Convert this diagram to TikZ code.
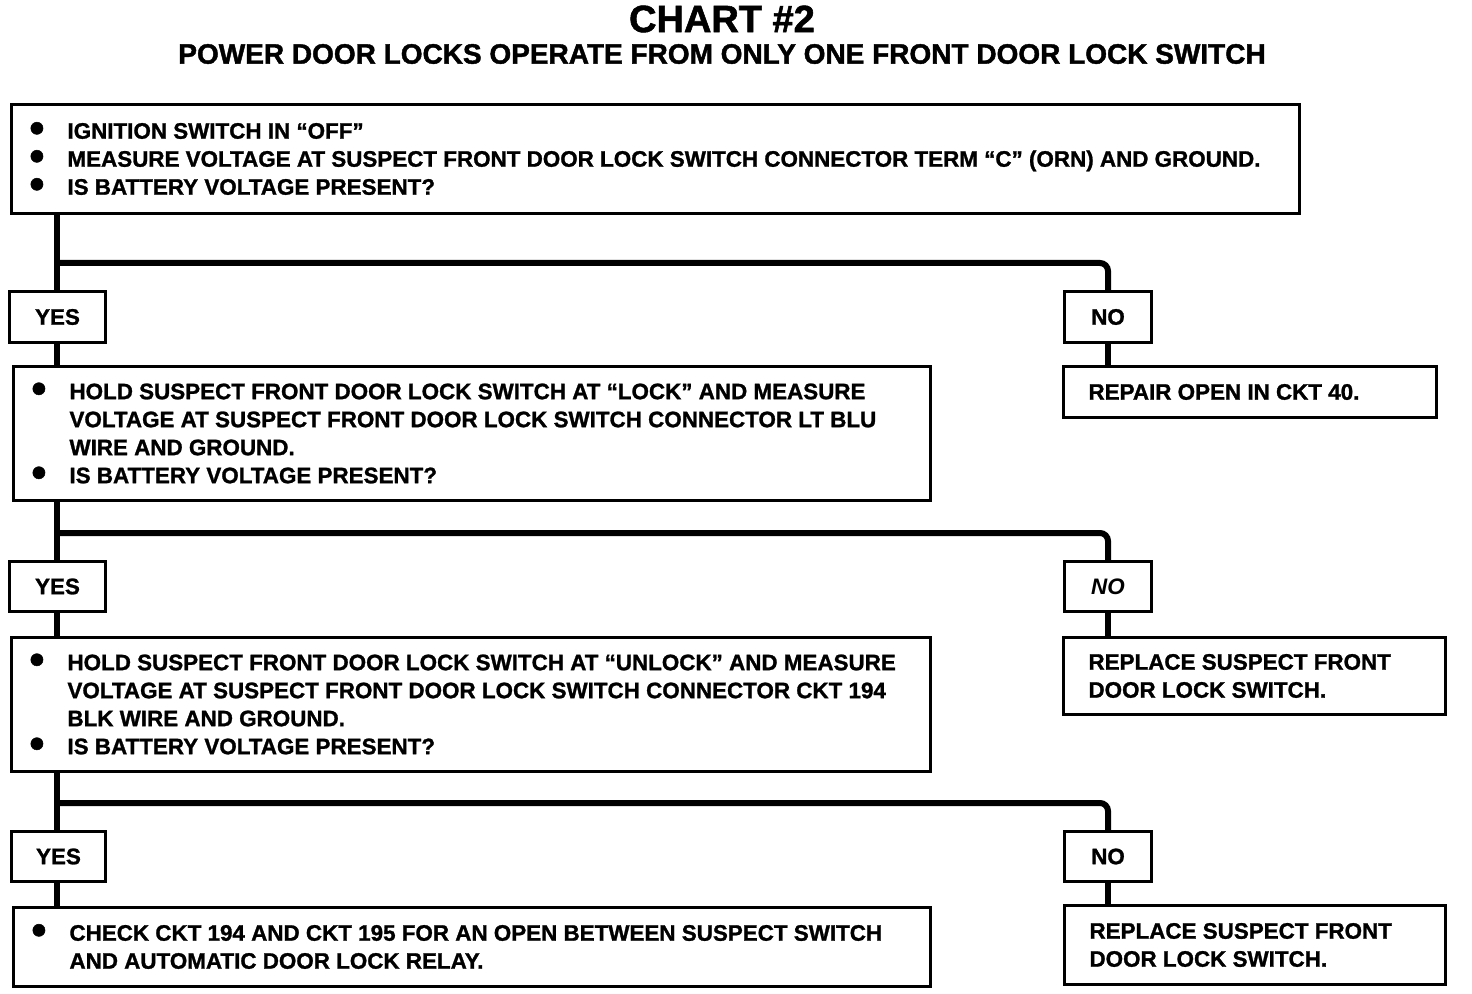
\documentclass[tikz,border=0pt]{standalone}
\usepackage{fontspec}
\setmainfont{Liberation Sans}[BoldFeatures={FakeBold=1.2}]
\newfontfamily\titlefont{Liberation Sans Bold}[FakeBold=1.5]
\newcommand\bul{\makebox[19pt][l]{\smash{\raisebox{-1.8pt}{\scalebox{1.9}{\textbullet}}}}}
\newcommand\bitem[1]{\hangindent=19pt\hangafter=1\noindent\bul #1\par}
\tikzset{
  box/.style={draw, line width=1.5pt, anchor=north west, inner xsep=9pt, inner ysep=0pt,
    font=\bfseries\fontsize{11.2}{14}\selectfont},
  sz/.style 2 args={minimum width=#1*0.5pt, minimum height=#2*0.5pt},
  ans/.style={draw, line width=1.5pt, anchor=north west, inner sep=0pt,
    font=\bfseries\fontsize{11.2}{14}\selectfont},
  conn/.style={line width=3pt},
}
\begin{document}
\begin{tikzpicture}[x=0.5pt,y=-0.5pt]
\useasboundingbox (0,0) rectangle (1472,994);
\node[font=\titlefont\fontsize{19}{22}\selectfont] (t1) at (722,19) {CHART \#2};
\node[font=\titlefont\fontsize{14}{16}\selectfont] (t2) at (722,54) {POWER DOOR LOCKS OPERATE FROM ONLY ONE FRONT DOOR LOCK SWITCH};

\node[box, sz={1288}{109}] (b1) at (10,103) {\parbox{626pt}{\raggedright
\bitem{IGNITION SWITCH IN “OFF”}
\bitem{MEASURE VOLTAGE AT SUSPECT FRONT DOOR LOCK SWITCH CONNECTOR TERM “C” (ORN) AND GROUND.}
\bitem{IS BATTERY VOLTAGE PRESENT?}}};

\node[ans, sz={96}{51}] (y1) at (8,290) {YES};
\node[ans, sz={87}{51}] (n1) at (1063,290) {NO};

\node[box, sz={917}{134}] (b2) at (12,365) {\parbox{440.5pt}{\raggedright
\bitem{HOLD SUSPECT FRONT DOOR LOCK SWITCH AT “LOCK” AND MEASURE\newline VOLTAGE AT SUSPECT FRONT DOOR LOCK SWITCH CONNECTOR LT BLU\newline WIRE AND GROUND.}
\bitem{IS BATTERY VOLTAGE PRESENT?}}};
\node[box, inner xsep=12.5pt, sz={373}{51}] (r1) at (1062,365) {\parbox{161.5pt}{\raggedright REPAIR OPEN IN CKT 40.}};

\node[ans, sz={96}{50}] (y2) at (8,560) {YES};
\node[ans, sz={87}{50}] (n2) at (1063,560) {\itshape NO};

\node[box, sz={919}{134}] (b3) at (10,636) {\parbox{441.5pt}{\raggedright
\bitem{HOLD SUSPECT FRONT DOOR LOCK SWITCH AT “UNLOCK” AND MEASURE\newline VOLTAGE AT SUSPECT FRONT DOOR LOCK SWITCH CONNECTOR CKT 194\newline BLK WIRE AND GROUND.}
\bitem{IS BATTERY VOLTAGE PRESENT?}}};
\node[box, inner xsep=12.5pt, sz={382}{77}] (r2) at (1062,636) {\parbox{166pt}{\raggedright REPLACE SUSPECT FRONT\newline DOOR LOCK SWITCH.}};

\node[ans, sz={94}{50}] (y3) at (10,830) {YES};
\node[ans, sz={87}{50}] (n3) at (1063,830) {NO};

\node[box, sz={917}{79}] (b4) at (12,906) {\parbox{440.5pt}{\raggedright
\bitem{CHECK CKT 194 AND CKT 195 FOR AN OPEN BETWEEN SUSPECT SWITCH\newline AND AUTOMATIC DOOR LOCK RELAY.}}};
\node[box, inner xsep=12.5pt, sz={381}{79}] (r3) at (1063,904) {\parbox{165.5pt}{\raggedright REPLACE SUSPECT FRONT\newline DOOR LOCK SWITCH.}};

\coordinate (j1) at (57,263);
\coordinate (j2) at (57,533);
\coordinate (j3) at (57,803);

\draw[conn] (y1.north -| j1) -- (j1 |- b1.south);
\draw[conn, rounded corners=4pt] (j1) -- (j1 -| n1.north) -- (n1.north);
\draw[conn] (y1.south -| j1) -- (j1 |- b2.north);
\draw[conn] (n1.south) -- (r1.north -| n1.south);

\draw[conn] (y2.north -| j2) -- (j2 |- b2.south);
\draw[conn, rounded corners=4pt] (j2) -- (j2 -| n2.north) -- (n2.north);
\draw[conn] (y2.south -| j2) -- (j2 |- b3.north);
\draw[conn] (n2.south) -- (r2.north -| n2.south);

\draw[conn] (y3.north -| j3) -- (j3 |- b3.south);
\draw[conn, rounded corners=4pt] (j3) -- (j3 -| n3.north) -- (n3.north);
\draw[conn] (y3.south -| j3) -- (j3 |- b4.north);
\draw[conn] (n3.south) -- (r3.north -| n3.south);
\end{tikzpicture}
\end{document}
